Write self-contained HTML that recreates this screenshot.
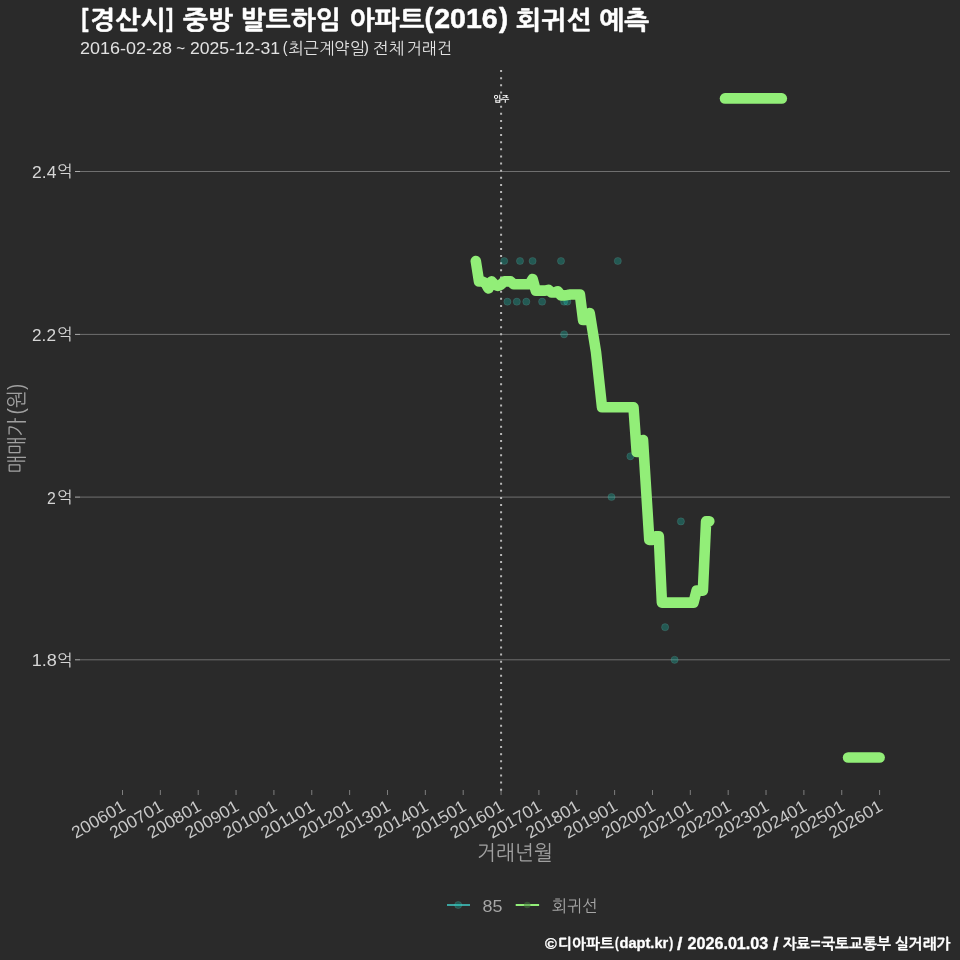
<!DOCTYPE html>
<html lang="ko"><head><meta charset="utf-8"><title>[경산시] 중방 발트하임 아파트(2016) 회귀선 예측</title>
<style>html,body{margin:0;padding:0;background:#2a2a2a;}body{width:960px;height:960px;overflow:hidden;}svg{display:block;}text{font-family:"Liberation Sans", "NanumGothic", sans-serif;white-space:pre;}</style>
</head><body>
<svg width="960" height="960" viewBox="0 0 960 960">
<rect x="0" y="0" width="960" height="960" fill="#2a2a2a"/>
<g stroke="#6f6f6f" stroke-width="1">
<line x1="80" x2="950" y1="171.50" y2="171.50"/>
<line x1="80" x2="950" y1="334.40" y2="334.40"/>
<line x1="80" x2="950" y1="497.10" y2="497.10"/>
<line x1="80" x2="950" y1="659.80" y2="659.80"/>
</g>
<g stroke="#adadad" stroke-width="1">
<line x1="75" x2="80" y1="171.50" y2="171.50"/>
<line x1="75" x2="80" y1="334.40" y2="334.40"/>
<line x1="75" x2="80" y1="497.10" y2="497.10"/>
<line x1="75" x2="80" y1="659.80" y2="659.80"/>
</g>
<g stroke="#7e7e7e" stroke-width="1">
<line x1="122.50" x2="122.50" y1="790" y2="795"/>
<line x1="160.35" x2="160.35" y1="790" y2="795"/>
<line x1="198.21" x2="198.21" y1="790" y2="795"/>
<line x1="236.06" x2="236.06" y1="790" y2="795"/>
<line x1="273.92" x2="273.92" y1="790" y2="795"/>
<line x1="311.77" x2="311.77" y1="790" y2="795"/>
<line x1="349.63" x2="349.63" y1="790" y2="795"/>
<line x1="387.48" x2="387.48" y1="790" y2="795"/>
<line x1="425.34" x2="425.34" y1="790" y2="795"/>
<line x1="463.19" x2="463.19" y1="790" y2="795"/>
<line x1="501.05" x2="501.05" y1="790" y2="795"/>
<line x1="538.90" x2="538.90" y1="790" y2="795"/>
<line x1="576.76" x2="576.76" y1="790" y2="795"/>
<line x1="614.62" x2="614.62" y1="790" y2="795"/>
<line x1="652.47" x2="652.47" y1="790" y2="795"/>
<line x1="690.32" x2="690.32" y1="790" y2="795"/>
<line x1="728.18" x2="728.18" y1="790" y2="795"/>
<line x1="766.03" x2="766.03" y1="790" y2="795"/>
<line x1="803.89" x2="803.89" y1="790" y2="795"/>
<line x1="841.74" x2="841.74" y1="790" y2="795"/>
<line x1="879.60" x2="879.60" y1="790" y2="795"/>
</g>
<line x1="501.1" x2="501.1" y1="790.7" y2="69" stroke="#b8b8b8" stroke-width="2" stroke-dasharray="2 5.115"/>
<g fill="#14c8b4" fill-opacity="0.3" stroke="#9fe8dc" stroke-opacity="0.16" stroke-width="0.8">
<circle cx="504.2" cy="261.0" r="3.6"/>
<circle cx="520.0" cy="261.0" r="3.6"/>
<circle cx="532.6" cy="261.0" r="3.6"/>
<circle cx="561.0" cy="261.0" r="3.6"/>
<circle cx="617.8" cy="261.0" r="3.6"/>
<circle cx="507.4" cy="301.7" r="3.6"/>
<circle cx="516.8" cy="301.7" r="3.6"/>
<circle cx="526.3" cy="301.7" r="3.6"/>
<circle cx="542.1" cy="301.7" r="3.6"/>
<circle cx="564.1" cy="301.7" r="3.6"/>
<circle cx="567.3" cy="301.7" r="3.6"/>
<circle cx="564.1" cy="334.3" r="3.6"/>
<circle cx="630.4" cy="456.3" r="3.6"/>
<circle cx="611.5" cy="497.0" r="3.6"/>
<circle cx="680.9" cy="521.4" r="3.6"/>
<circle cx="665.1" cy="627.2" r="3.6"/>
<circle cx="674.6" cy="659.8" r="3.6"/>
</g>
<g fill="none" stroke="#92ee78" stroke-width="10.6" stroke-linecap="round" stroke-linejoin="round">
<path d="M475.8,261.0 L479.0,281.4 L482.1,281.4 L485.3,283.0 L488.4,288.5 L491.6,281.4 L494.7,284.6 L497.9,286.0 L501.0,284.6 L504.2,281.4 L507.4,281.4 L510.5,281.4 L513.7,284.2 L516.8,284.2 L520.0,284.2 L523.1,284.2 L526.3,284.2 L529.4,284.2 L532.6,279.0 L535.8,290.6 L538.9,290.6 L542.1,290.6 L545.2,290.6 L548.4,289.8 L551.5,292.5 L554.7,292.5 L557.8,291.3 L561.0,295.4 L564.1,295.4 L567.3,295.0 L570.5,294.5 L573.6,294.5 L576.8,294.5 L579.9,294.5 L583.1,320.0 L586.2,320.0 L589.7,313.0 L596.0,352.0 L602.0,407.3 L633.5,407.3 L636.7,452.0 L639.9,452.0 L643.0,440.0 L649.3,540.0 L652.5,540.0 L655.6,536.2 L658.8,536.2 L661.9,602.6 L693.5,602.6 L696.6,590.6 L702.9,590.6 L706.1,521.3 L709.3,521.3"/>
<path d="M725.0,98.4 L781.8,98.4"/>
<path d="M848.1,757.5 L879.6,757.5"/>
</g>
<text transform="translate(126.70,809.70) rotate(-30)" font-size="17.1" fill="#c8c8c8" text-anchor="end" textLength="58.8" lengthAdjust="spacingAndGlyphs">200601</text>
<text transform="translate(164.55,809.70) rotate(-30)" font-size="17.1" fill="#c8c8c8" text-anchor="end" textLength="58.8" lengthAdjust="spacingAndGlyphs">200701</text>
<text transform="translate(202.41,809.70) rotate(-30)" font-size="17.1" fill="#c8c8c8" text-anchor="end" textLength="58.8" lengthAdjust="spacingAndGlyphs">200801</text>
<text transform="translate(240.26,809.70) rotate(-30)" font-size="17.1" fill="#c8c8c8" text-anchor="end" textLength="58.8" lengthAdjust="spacingAndGlyphs">200901</text>
<text transform="translate(278.12,809.70) rotate(-30)" font-size="17.1" fill="#c8c8c8" text-anchor="end" textLength="58.8" lengthAdjust="spacingAndGlyphs">201001</text>
<text transform="translate(315.97,809.70) rotate(-30)" font-size="17.1" fill="#c8c8c8" text-anchor="end" textLength="58.8" lengthAdjust="spacingAndGlyphs">201101</text>
<text transform="translate(353.83,809.70) rotate(-30)" font-size="17.1" fill="#c8c8c8" text-anchor="end" textLength="58.8" lengthAdjust="spacingAndGlyphs">201201</text>
<text transform="translate(391.68,809.70) rotate(-30)" font-size="17.1" fill="#c8c8c8" text-anchor="end" textLength="58.8" lengthAdjust="spacingAndGlyphs">201301</text>
<text transform="translate(429.54,809.70) rotate(-30)" font-size="17.1" fill="#c8c8c8" text-anchor="end" textLength="58.8" lengthAdjust="spacingAndGlyphs">201401</text>
<text transform="translate(467.39,809.70) rotate(-30)" font-size="17.1" fill="#c8c8c8" text-anchor="end" textLength="58.8" lengthAdjust="spacingAndGlyphs">201501</text>
<text transform="translate(505.25,809.70) rotate(-30)" font-size="17.1" fill="#c8c8c8" text-anchor="end" textLength="58.8" lengthAdjust="spacingAndGlyphs">201601</text>
<text transform="translate(543.11,809.70) rotate(-30)" font-size="17.1" fill="#c8c8c8" text-anchor="end" textLength="58.8" lengthAdjust="spacingAndGlyphs">201701</text>
<text transform="translate(580.96,809.70) rotate(-30)" font-size="17.1" fill="#c8c8c8" text-anchor="end" textLength="58.8" lengthAdjust="spacingAndGlyphs">201801</text>
<text transform="translate(618.82,809.70) rotate(-30)" font-size="17.1" fill="#c8c8c8" text-anchor="end" textLength="58.8" lengthAdjust="spacingAndGlyphs">201901</text>
<text transform="translate(656.67,809.70) rotate(-30)" font-size="17.1" fill="#c8c8c8" text-anchor="end" textLength="58.8" lengthAdjust="spacingAndGlyphs">202001</text>
<text transform="translate(694.52,809.70) rotate(-30)" font-size="17.1" fill="#c8c8c8" text-anchor="end" textLength="58.8" lengthAdjust="spacingAndGlyphs">202101</text>
<text transform="translate(732.38,809.70) rotate(-30)" font-size="17.1" fill="#c8c8c8" text-anchor="end" textLength="58.8" lengthAdjust="spacingAndGlyphs">202201</text>
<text transform="translate(770.24,809.70) rotate(-30)" font-size="17.1" fill="#c8c8c8" text-anchor="end" textLength="58.8" lengthAdjust="spacingAndGlyphs">202301</text>
<text transform="translate(808.09,809.70) rotate(-30)" font-size="17.1" fill="#c8c8c8" text-anchor="end" textLength="58.8" lengthAdjust="spacingAndGlyphs">202401</text>
<text transform="translate(845.94,809.70) rotate(-30)" font-size="17.1" fill="#c8c8c8" text-anchor="end" textLength="58.8" lengthAdjust="spacingAndGlyphs">202501</text>
<text transform="translate(883.80,809.70) rotate(-30)" font-size="17.1" fill="#c8c8c8" text-anchor="end" textLength="58.8" lengthAdjust="spacingAndGlyphs">202601</text>
<line x1="447" x2="470" y1="905" y2="905" stroke="#3ba4a0" stroke-width="2"/>
<circle cx="458.2" cy="905" r="3.6" fill="#14c8b4" fill-opacity="0.3" stroke="#9fe8dc" stroke-opacity="0.16" stroke-width="0.8"/>
<line x1="515.7" x2="539.1" y1="905" y2="905" stroke="#92ee78" stroke-width="2"/>
<circle cx="527.2" cy="905" r="3.3" fill="#447a3c" fill-opacity="0.5"/>
<text><tspan x="81.57" y="27.40" font-size="26.42" font-weight="bold" stroke="#ffffff" stroke-width="0.50" stroke-linejoin="round" fill="#ffffff" textLength="6.91" lengthAdjust="spacingAndGlyphs">[</tspan><tspan x="90.14" y="29.05" font-size="25.37" font-weight="bold" stroke="#ffffff" stroke-width="0.50" stroke-linejoin="round" fill="#ffffff" textLength="75.43" lengthAdjust="spacingAndGlyphs">경산시</tspan><tspan x="166.30" y="27.40" font-size="26.42" font-weight="bold" stroke="#ffffff" stroke-width="0.50" stroke-linejoin="round" fill="#ffffff" textLength="6.91" lengthAdjust="spacingAndGlyphs">]</tspan> <tspan x="182.98" y="29.05" font-size="25.37" font-weight="bold" stroke="#ffffff" stroke-width="0.50" stroke-linejoin="round" fill="#ffffff" textLength="49.87" lengthAdjust="spacingAndGlyphs">중방</tspan> <tspan x="240.79" y="29.05" font-size="25.37" font-weight="bold" stroke="#ffffff" stroke-width="0.50" stroke-linejoin="round" fill="#ffffff" textLength="100.13" lengthAdjust="spacingAndGlyphs">발트하임</tspan> <tspan x="349.42" y="29.05" font-size="25.37" font-weight="bold" stroke="#ffffff" stroke-width="0.50" stroke-linejoin="round" fill="#ffffff" textLength="74.98" lengthAdjust="spacingAndGlyphs">아파트</tspan><tspan x="424.42" y="27.22" font-size="27.28" font-weight="bold" stroke="#ffffff" stroke-width="0.50" stroke-linejoin="round" fill="#ffffff" textLength="8.92" lengthAdjust="spacingAndGlyphs">(</tspan><tspan x="434.22" y="28.40" font-size="27.72" font-weight="bold" stroke="#ffffff" stroke-width="0.50" stroke-linejoin="round" fill="#ffffff" textLength="63.48" lengthAdjust="spacingAndGlyphs">2016</tspan><tspan x="499.00" y="27.22" font-size="27.28" font-weight="bold" stroke="#ffffff" stroke-width="0.50" stroke-linejoin="round" fill="#ffffff" textLength="9.09" lengthAdjust="spacingAndGlyphs">)</tspan> <tspan x="516.06" y="29.05" font-size="25.37" font-weight="bold" stroke="#ffffff" stroke-width="0.50" stroke-linejoin="round" fill="#ffffff" textLength="75.52" lengthAdjust="spacingAndGlyphs">회귀선</tspan> <tspan x="599.24" y="29.05" font-size="25.37" font-weight="bold" stroke="#ffffff" stroke-width="0.50" stroke-linejoin="round" fill="#ffffff" textLength="49.98" lengthAdjust="spacingAndGlyphs">예측</tspan></text>
<text><tspan x="79.97" y="53.79" font-size="17.19" fill="#e2e2e2" textLength="91.99" lengthAdjust="spacingAndGlyphs">2016-02-28</tspan> <tspan x="176.34" y="53.79" font-size="17.19" fill="#e2e2e2" textLength="8.86" lengthAdjust="spacingAndGlyphs">~</tspan> <tspan x="189.98" y="53.79" font-size="17.19" fill="#e2e2e2" textLength="90.06" lengthAdjust="spacingAndGlyphs">2025-12-31</tspan><tspan x="282.87" y="52.58" font-size="16.11" fill="#e2e2e2" textLength="4.74" lengthAdjust="spacingAndGlyphs">(</tspan><tspan x="288.24" y="53.63" font-size="16.22" fill="#e2e2e2" textLength="76.78" lengthAdjust="spacingAndGlyphs">최근계약일</tspan><tspan x="363.76" y="52.58" font-size="16.11" fill="#e2e2e2" textLength="5.19" lengthAdjust="spacingAndGlyphs">)</tspan> <tspan x="372.70" y="53.63" font-size="16.22" fill="#e2e2e2" textLength="31.58" lengthAdjust="spacingAndGlyphs">전체</tspan> <tspan x="406.87" y="53.63" font-size="16.22" fill="#e2e2e2" textLength="45.06" lengthAdjust="spacingAndGlyphs">거래건</tspan></text>
<text><tspan x="32.04" y="178.20" font-size="17.36" fill="#d6d6d6" textLength="24.35" lengthAdjust="spacingAndGlyphs">2.4</tspan><tspan x="56.75" y="177.28" font-size="16.22" fill="#d6d6d6" textLength="15.76" lengthAdjust="spacingAndGlyphs">억</tspan></text>
<text><tspan x="32.06" y="341.10" font-size="17.36" fill="#d6d6d6" textLength="23.93" lengthAdjust="spacingAndGlyphs">2.2</tspan><tspan x="56.75" y="340.18" font-size="16.22" fill="#d6d6d6" textLength="15.76" lengthAdjust="spacingAndGlyphs">억</tspan></text>
<text><tspan x="47.12" y="503.80" font-size="17.36" fill="#d6d6d6" textLength="8.81" lengthAdjust="spacingAndGlyphs">2</tspan><tspan x="56.75" y="502.88" font-size="16.22" fill="#d6d6d6" textLength="15.76" lengthAdjust="spacingAndGlyphs">억</tspan></text>
<text><tspan x="31.67" y="666.29" font-size="17.05" fill="#d6d6d6" textLength="25.16" lengthAdjust="spacingAndGlyphs">1.8</tspan><tspan x="56.75" y="665.58" font-size="16.22" fill="#d6d6d6" textLength="15.76" lengthAdjust="spacingAndGlyphs">억</tspan></text>
<text><tspan x="477.05" y="860.18" font-size="20.70" fill="#a0a0a0" textLength="75.79" lengthAdjust="spacingAndGlyphs">거래년월</tspan></text>
<text><tspan x="482.59" y="911.59" font-size="16.56" fill="#a6a6a6" textLength="19.92" lengthAdjust="spacingAndGlyphs">85</tspan></text>
<text><tspan x="552.07" y="911.53" font-size="16.71" fill="#a6a6a6" textLength="45.58" lengthAdjust="spacingAndGlyphs">회귀선</tspan></text>
<text><tspan x="493.16" y="102.13" font-size="8.69" font-weight="bold" fill="#ffffff" textLength="16.15" lengthAdjust="spacingAndGlyphs">입주</tspan></text>
<text><tspan x="545.14" y="948.75" font-size="15.50" font-weight="bold" stroke="#ffffff" stroke-width="0.30" stroke-linejoin="round" fill="#ffffff" textLength="11.79" lengthAdjust="spacingAndGlyphs">©</tspan><tspan x="558.05" y="948.97" font-size="14.84" font-weight="bold" stroke="#ffffff" stroke-width="0.30" stroke-linejoin="round" fill="#ffffff" textLength="55.82" lengthAdjust="spacingAndGlyphs">디아파트</tspan><tspan x="615.01" y="947.58" font-size="15.36" font-weight="bold" stroke="#ffffff" stroke-width="0.30" stroke-linejoin="round" fill="#ffffff" textLength="3.68" lengthAdjust="spacingAndGlyphs">(</tspan><tspan x="619.45" y="947.66" font-size="14.50" font-weight="bold" stroke="#ffffff" stroke-width="0.30" stroke-linejoin="round" fill="#ffffff" textLength="48.80" lengthAdjust="spacingAndGlyphs">dapt.kr</tspan><tspan x="669.15" y="947.58" font-size="15.36" font-weight="bold" stroke="#ffffff" stroke-width="0.30" stroke-linejoin="round" fill="#ffffff" textLength="3.98" lengthAdjust="spacingAndGlyphs">)</tspan> <tspan x="677.08" y="949.71" font-size="17.88" font-weight="bold" stroke="#ffffff" stroke-width="0.30" stroke-linejoin="round" fill="#ffffff" textLength="5.41" lengthAdjust="spacingAndGlyphs">/</tspan> <tspan x="687.43" y="948.86" font-size="15.58" font-weight="bold" stroke="#ffffff" stroke-width="0.30" stroke-linejoin="round" fill="#ffffff" textLength="80.91" lengthAdjust="spacingAndGlyphs">2026.01.03</tspan> <tspan x="773.08" y="949.71" font-size="17.88" font-weight="bold" stroke="#ffffff" stroke-width="0.30" stroke-linejoin="round" fill="#ffffff" textLength="5.41" lengthAdjust="spacingAndGlyphs">/</tspan> <tspan x="783.01" y="948.97" font-size="14.84" font-weight="bold" stroke="#ffffff" stroke-width="0.30" stroke-linejoin="round" fill="#ffffff" textLength="27.23" lengthAdjust="spacingAndGlyphs">자료</tspan><tspan x="810.72" y="948.25" font-size="12.53" font-weight="bold" stroke="#ffffff" stroke-width="0.30" stroke-linejoin="round" fill="#ffffff" textLength="9.89" lengthAdjust="spacingAndGlyphs">=</tspan><tspan x="821.15" y="948.97" font-size="14.84" font-weight="bold" stroke="#ffffff" stroke-width="0.30" stroke-linejoin="round" fill="#ffffff" textLength="69.90" lengthAdjust="spacingAndGlyphs">국토교통부</tspan> <tspan x="895.00" y="948.97" font-size="14.84" font-weight="bold" stroke="#ffffff" stroke-width="0.30" stroke-linejoin="round" fill="#ffffff" textLength="55.46" lengthAdjust="spacingAndGlyphs">실거래가</tspan></text>
<g transform="translate(0,472) rotate(-90)">
<text><tspan x="-1.33" y="24.16" font-size="20.68" fill="#a0a0a0" textLength="55.51" lengthAdjust="spacingAndGlyphs">매매가</tspan><tspan x="57.44" y="22.94" font-size="22.12" fill="#a0a0a0" textLength="6.27" lengthAdjust="spacingAndGlyphs">(</tspan><tspan x="63.68" y="24.40" font-size="20.97" fill="#a0a0a0" textLength="18.05" lengthAdjust="spacingAndGlyphs">원</tspan><tspan x="82.30" y="22.94" font-size="22.12" fill="#a0a0a0" textLength="5.90" lengthAdjust="spacingAndGlyphs">)</tspan></text>
</g>
</svg>
</body></html>
